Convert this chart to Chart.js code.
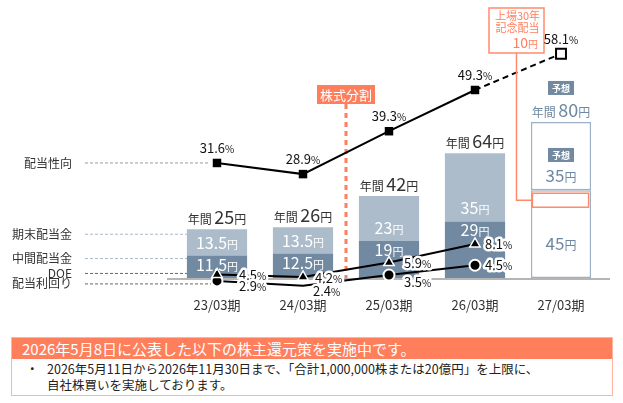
<!DOCTYPE html>
<html>
<head>
<meta charset="utf-8">
<script src="https://cdn.jsdelivr.net/npm/chart.js@4.4.1/dist/chart.umd.min.js"></script>
<style>
body { margin: 0; background: #fff; font-family: "Noto Sans CJK JP", "Noto Sans", sans-serif; }
#wrap { position: absolute; left: 0; top: 0; width: 623px; height: 330px; }
#note { position: absolute; left: 11px; top: 337px; width: 602px; height: 59px; border: 1.5px solid #ffb3a0; box-sizing: border-box; }
#noteHead { background: #ff7e5c; color: #fff; font-size: 15px; height: 21px; line-height: 21px; padding-left: 10px; white-space: nowrap; }
#noteBody { position: relative; font-size: 12.5px; line-height: 16px; color: #222; padding: 2px 0 0 35px; white-space: nowrap; }
#noteBody .dot { position: absolute; left: 14px; top: 2px; }
</style>
</head>
<body>
<div id="wrap"><canvas id="myChart" width="623" height="330"></canvas></div>
<div id="note">
  <div id="noteHead">2026年5月8日に公表した以下の株主還元策を実施中です。</div>
  <div id="noteBody"><span class="dot">・</span>2026年5月11日から2026年11月30日まで、「合計1,000,000株または20億円」を上限に、<br>自社株買いを実施しております。</div>
</div>
<script>
// data
const categories = ['23/03期', '24/03期', '25/03期', '26/03期', '27/03期'];
const interimDiv = [11.5, 12.5, 19, 29, null];
const yearEndDiv = [13.5, 13.5, 23, 35, null];
const forecastLower = [null, null, null, null, 45];
const forecastUpper = [null, null, null, null, 35];
const annualDiv = [25, 26, 42, 64, 80];
const payoutRatio = [31.6, 28.9, 39.3, 49.3, 58.1];
const doe = [4.5, 4.2, 5.9, 8.1, null];
const dividendYield = [2.9, 2.4, 3.5, 4.5, null];
const commemorativeDiv = 10;

const F = '"Noto Sans CJK JP", "Noto Sans", sans-serif';
const DARK = '#7189a1';
const LIGHT = '#acbccb';
const ORANGE = '#ff7e5c';
const FC = '#6e88a1';

function font(size, weight) {
    return (weight || 'normal') + ' ' + size + 'px ' + F;
}

// draws text made of pieces with different sizes on one baseline
function drawParts(ctx, parts, x, y, align, halo) {
    let total = 0;
    parts.forEach(p => { ctx.font = p.font; p.w = ctx.measureText(p.text).width; total += p.w; });
    let start = align === 'center' ? x - total / 2 : (align === 'right' ? x - total : x);
    ctx.textAlign = 'left';
    ctx.textBaseline = 'alphabetic';
    if (halo) {
        let cx = start;
        ctx.strokeStyle = '#fff';
        ctx.lineWidth = 5;
        ctx.lineJoin = 'round';
        parts.forEach(p => { ctx.font = p.font; ctx.strokeText(p.text, cx, y); cx += p.w; });
    }
    let cx = start;
    parts.forEach(p => {
        ctx.font = p.font;
        ctx.fillStyle = p.color;
        ctx.fillText(p.text, cx, y);
        cx += p.w;
    });
}

function yen(v, size, color) {
    return [{ text: String(v), font: font(size), color: color }, { text: '円', font: font(Math.round(size * 0.7)), color: color }];
}

function pct(v) {
    return [{ text: String(v), font: font(13), color: '#111' }, { text: '%', font: font(10), color: '#111' }];
}

function badge(ctx, cx, cy, text) {
    ctx.fillStyle = DARK;
    ctx.fillRect(cx - 13, cy - 7, 26, 14);
    ctx.fillStyle = '#fff';
    ctx.font = font(9, 'bold');
    ctx.textAlign = 'center';
    ctx.textBaseline = 'middle';
    ctx.fillText(text, cx, cy + 0.5);
}

function dashLine(ctx, x1, x2, y, color) {
    ctx.strokeStyle = color;
    ctx.lineWidth = 1;
    ctx.setLineDash([3, 2]);
    ctx.beginPath();
    ctx.moveTo(x1, y);
    ctx.lineTo(x2, y);
    ctx.stroke();
    ctx.setLineDash([]);
}

const decorPlugin = {
    id: 'decor',
    beforeDatasetsDraw(chart) {
        const ctx = chart.ctx;
        const area = chart.chartArea;
        const x = chart.scales.x;
        ctx.save();

        // base line
        ctx.strokeStyle = '#b5b5b5';
        ctx.lineWidth = 2;
        ctx.beginPath();
        ctx.moveTo(area.left - 7, area.bottom + 1);
        ctx.lineTo(area.right + 6, area.bottom + 1);
        ctx.stroke();

        // stock split marker
        const sx = (x.getPixelForValue(1) + x.getPixelForValue(2)) / 2;
        ctx.strokeStyle = ORANGE;
        ctx.lineWidth = 3;
        ctx.setLineDash([5, 4]);
        ctx.beginPath();
        ctx.moveTo(sx, 104);
        ctx.lineTo(sx, area.bottom);
        ctx.stroke();
        ctx.setLineDash([]);
        ctx.fillStyle = ORANGE;
        ctx.fillRect(sx - 29, 85, 58, 19);
        ctx.fillStyle = '#fff';
        ctx.font = font(13);
        ctx.textAlign = 'center';
        ctx.textBaseline = 'middle';
        ctx.fillText('株式分割', sx, 95);

        // left side labels
        const interimBar = chart.getDatasetMeta(0).data[0];
        const yearEndBar = chart.getDatasetMeta(1).data[0];
        const payPt = chart.getDatasetMeta(4).data[0];
        const doePt = chart.getDatasetMeta(5).data[0];
        const yldPt = chart.getDatasetMeta(6).data[0];
        const barLeft = yearEndBar.x - yearEndBar.width / 2;
        const rows = [
            ['配当性向', payPt.y, payPt.x - 7, '#9a9a9a'],
            ['期末配当金', yearEndBar.y + 5, barLeft, '#a9b8c8'],
            ['中間配当金', interimBar.y + 3, barLeft, '#a9b8c8'],
            ['DOE', doePt.y - 1, doePt.x - 6, '#666'],
            ['配当利回り', yldPt.y + 3, yldPt.x - 6, '#666']
        ];
        rows.forEach(r => {
            dashLine(ctx, 85, r[2], r[1], r[3]);
            ctx.fillStyle = '#333';
            ctx.font = font(12);
            ctx.textAlign = 'right';
            ctx.textBaseline = 'middle';
            ctx.fillText(r[0], 72, r[1]);
        });
        ctx.restore();
    },
    afterDatasetsDraw(chart) {
        const ctx = chart.ctx;
        ctx.save();
        const interimMeta = chart.getDatasetMeta(0);
        const yearEndMeta = chart.getDatasetMeta(1);

        for (let i = 0; i < 4; i++) {
            const lo = interimMeta.data[i];
            const hi = yearEndMeta.data[i];
            const loMid = Math.min((lo.y + lo.base) / 2, lo.y + 9);
            const hiMid = Math.max((hi.y + hi.base) / 2, hi.base - 13);
            drawParts(ctx, yen(interimDiv[i], 16, '#fff'), lo.x, loMid + 6, 'center');
            drawParts(ctx, yen(yearEndDiv[i], 16, '#fff'), hi.x, hiMid + 6, 'center');
            const total = [{ text: '年間 ', font: font(12), color: '#333' }].concat(yen(annualDiv[i], 18, '#333'));
            total[2].font = font(12);
            drawParts(ctx, total, hi.x, hi.y - 5, 'center');
        }

        // forecast column
        const fLo = chart.getDatasetMeta(2).data[4];
        const fHi = chart.getDatasetMeta(3).data[4];
        const fl = fLo.x - fLo.width / 2;
        const rectTop = fLo.y + 3;
        ctx.strokeStyle = '#ff8a6b';
        ctx.lineWidth = 1.5;
        ctx.strokeRect(fl + 1.5, rectTop, fLo.width - 4, 14);
        drawParts(ctx, yen(forecastLower[4], 17, FC), fLo.x, (rectTop + 14 + fLo.base) / 2 + 7, 'center');
        badge(ctx, fHi.x, fHi.y + 33, '予想');
        drawParts(ctx, yen(forecastUpper[4], 17, FC), fHi.x, fHi.y + 60, 'center');
        const fTotal = [{ text: '年間 ', font: font(12), color: FC }].concat(yen(annualDiv[4], 18, FC));
        fTotal[2].font = font(12);
        drawParts(ctx, fTotal, fHi.x, fHi.y - 5, 'center');
        badge(ctx, fHi.x, fHi.y - 34, '予想');

        // commemorative dividend callout
        const bx = 489, by = 8, bw = 55, bh = 45;
        ctx.strokeStyle = '#ff8a6b';
        ctx.lineWidth = 1.5;
        ctx.beginPath();
        ctx.moveTo(bx + bw / 2, by + bh);
        ctx.lineTo(bx + bw / 2, rectTop + 7);
        ctx.lineTo(fl + 1.5, rectTop + 7);
        ctx.stroke();
        ctx.fillStyle = '#fff';
        ctx.fillRect(bx, by, bw, bh);
        ctx.strokeRect(bx, by, bw, bh);
        ctx.fillStyle = ORANGE;
        ctx.font = font(11);
        ctx.textAlign = 'center';
        ctx.textBaseline = 'middle';
        ctx.fillText('上場30年', bx + bw / 2 + 1, by + 8);
        ctx.fillText('記念配当', bx + bw / 2 + 1, by + 20);
        drawParts(ctx, yen(commemorativeDiv, 14, ORANGE), bx + bw - 6, by + 40, 'right');

        // percentage labels
        chart.getDatasetMeta(4).data.forEach((p, i) => {
            drawParts(ctx, pct(payoutRatio[i]), p.x, p.y - 10, 'center');
        });
        const doeDx = [22, 12, 15, 10], doeDy = [6, 6, 5, 5];
        chart.getDatasetMeta(5).data.forEach((p, i) => {
            if (doe[i] == null) return;
            drawParts(ctx, pct(doe[i]), p.x + doeDx[i], p.y + doeDy[i], 'left', true);
        });
        const yldDx = [22, 10, 15, 10], yldDy = [10, 10, 12, 5];
        chart.getDatasetMeta(6).data.forEach((p, i) => {
            if (dividendYield[i] == null) return;
            drawParts(ctx, pct(dividendYield[i]), p.x + yldDx[i], p.y + yldDy[i], 'left', true);
        });
        ctx.restore();
    }
};

const ctx = document.getElementById('myChart');
const dividendChart = new Chart(ctx, {
    type: 'bar',
    data: {
        labels: categories,
        datasets: [
            { label: '中間配当金', data: interimDiv, backgroundColor: DARK, stack: 'd', yAxisID: 'yBar', order: 10 },
            { label: '期末配当金', data: yearEndDiv, backgroundColor: LIGHT, stack: 'd', yAxisID: 'yBar', order: 10 },
            { label: '予想 中間', data: forecastLower, backgroundColor: '#fff', borderColor: '#9fb1c4', borderWidth: 1.5, borderSkipped: false, stack: 'd', yAxisID: 'yBar', order: 10 },
            { label: '予想 期末', data: forecastUpper, backgroundColor: '#fff', borderColor: '#9fb1c4', borderWidth: 1.5, borderSkipped: false, stack: 'd', yAxisID: 'yBar', order: 10 },
            {
                type: 'line', label: '配当性向', data: payoutRatio, yAxisID: 'yPay', order: 1, clip: false,
                borderColor: '#000', borderWidth: 2,
                pointStyle: 'rect', pointRadius: [6, 6, 6, 6, 7],
                pointBackgroundColor: ['#000', '#000', '#000', '#000', '#fff'],
                pointBorderColor: '#000', pointBorderWidth: [0, 0, 0, 0, 2],
                segment: { borderDash: c => c.p1DataIndex === 4 ? [6, 4] : undefined }
            },
            {
                type: 'line', label: 'DOE', data: doe, yAxisID: 'yDoe', order: 2, clip: false,
                borderColor: '#000', borderWidth: 2,
                pointStyle: 'triangle', pointRadius: 6,
                pointBackgroundColor: '#000', pointBorderColor: '#fff', pointBorderWidth: 1.5
            },
            {
                type: 'line', label: '配当利回り', data: dividendYield, yAxisID: 'yYld', order: 3, clip: false,
                borderColor: '#000', borderWidth: 2,
                pointStyle: 'circle', pointRadius: 5.5,
                pointBackgroundColor: '#000', pointBorderColor: '#fff', pointBorderWidth: 2
            }
        ]
    },
    options: {
        responsive: false,
        animation: false,
        layout: { padding: { left: 174, right: 19, top: 10, bottom: 12 } },
        plugins: { legend: { display: false }, tooltip: { enabled: false } },
        datasets: { bar: { categoryPercentage: 1, barPercentage: 0.7 } },
        scales: {
            x: {
                grid: { display: false, drawTicks: false },
                border: { display: false },
                ticks: { color: '#333', font: { size: 13, family: F }, padding: 19 },
                afterFit: s => { s.height = 40; }
            },
            yBar: { display: false, stacked: true, min: 0, max: 137.4 },
            yPay: { display: false, min: 3.7, max: 68.7 },
            yDoe: { display: false, min: 4.08, max: 35.69 },
            yYld: { display: false, min: 3.197, max: 30.54 }
        }
    },
    plugins: [decorPlugin]
});
</script>
</body>
</html>
